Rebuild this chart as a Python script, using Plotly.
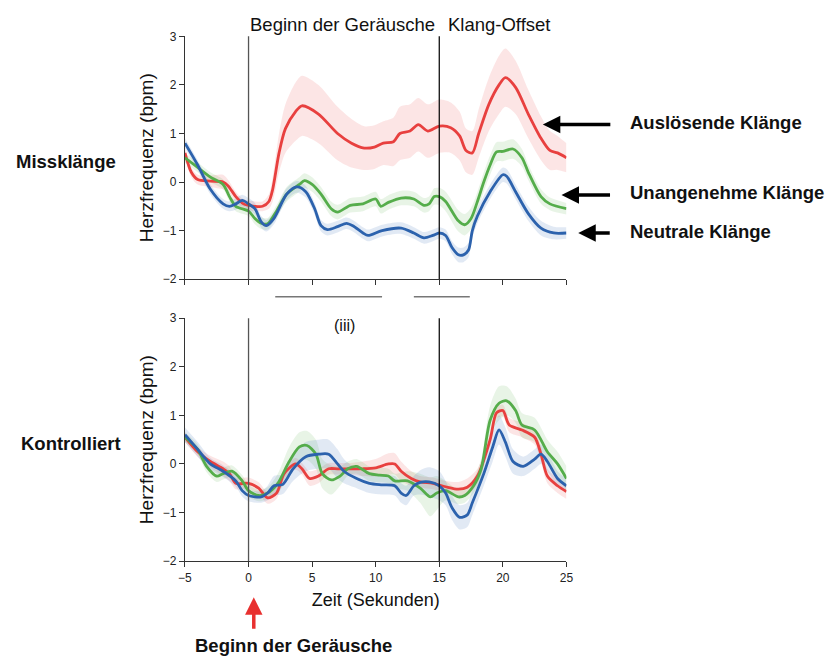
import plotly.graph_objects as go

W, H = 833, 662

# ---------------- data ----------------
# Top panel (Missklänge)
t_red_top = [-5, -4.5, -4, -3, -2, -1.6, -1, -0.4, 0.5, 1.1, 1.6, 1.9, 2.4, 2.9, 3.7, 4.2, 5.5, 7.0, 8.1, 9.1, 9.9, 10.6, 11.4, 11.9, 12.7, 13.35, 14.1, 15.0, 15.9, 16.6, 17.1, 17.6, 18.1, 18.9, 19.7, 20.2, 21.0, 22.0, 23.0, 23.7, 24.3, 25]
v_red_top = [0.6, 0.2, 0.05, 0.02, 0.0, -0.08, -0.3, -0.45, -0.5, -0.5, -0.4, -0.15, 0.6, 1.1, 1.45, 1.57, 1.4, 1.0, 0.8, 0.7, 0.72, 0.8, 0.83, 1.0, 1.05, 1.18, 1.05, 1.15, 1.12, 0.95, 0.65, 0.6, 1.0, 1.6, 2.0, 2.15, 1.95, 1.4, 0.9, 0.65, 0.6, 0.5]
e_red_top = [0.1, 0.1, 0.1, 0.12, 0.15, 0.12, 0.1, 0.1, 0.1, 0.1, 0.15, 0.25, 0.4, 0.5, 0.6, 0.62, 0.6, 0.55, 0.5, 0.45, 0.45, 0.45, 0.5, 0.55, 0.55, 0.55, 0.55, 0.55, 0.52, 0.5, 0.45, 0.45, 0.5, 0.55, 0.6, 0.6, 0.55, 0.5, 0.45, 0.4, 0.35, 0.3]

t_green_top = [-5, -4, -3, -2, -1.5, -1, 0, 0.5, 1, 1.5, 2.2, 3, 4, 4.4, 5, 5.7, 6.5, 7, 8, 9, 10, 10.4, 11, 12, 13, 13.8, 14.2, 14.6, 15, 15.5, 16.5, 17, 17.5, 18, 18.5, 19, 19.5, 20, 20.8, 21.5, 22, 23, 23.7, 25]
v_green_top = [0.5, 0.3, 0.1, -0.05, -0.3, -0.5, -0.6, -0.75, -0.85, -0.86, -0.6, -0.25, -0.05, 0.03, -0.05, -0.25, -0.55, -0.62, -0.48, -0.45, -0.35, -0.5, -0.42, -0.33, -0.35, -0.48, -0.45, -0.3, -0.3, -0.4, -0.8, -0.88, -0.75, -0.4, 0.0, 0.35, 0.62, 0.63, 0.68, 0.5, 0.2, -0.3, -0.45, -0.55]
e_green_top = [0.1, 0.1, 0.1, 0.1, 0.1, 0.1, 0.1, 0.12, 0.12, 0.12, 0.12, 0.15, 0.15, 0.15, 0.15, 0.15, 0.15, 0.15, 0.15, 0.15, 0.15, 0.15, 0.15, 0.15, 0.15, 0.15, 0.15, 0.17, 0.18, 0.2, 0.22, 0.22, 0.22, 0.2, 0.2, 0.2, 0.2, 0.2, 0.2, 0.18, 0.16, 0.15, 0.13, 0.12]

t_blue_top = [-5, -4, -3, -2, -1.5, -1, -0.5, 0, 0.5, 1, 1.4, 2, 3, 3.8, 4.5, 5.2, 5.7, 6.2, 7, 7.7, 8.2, 9, 9.4, 10.5, 12, 13, 13.8, 14.5, 15, 15.5, 16, 16.5, 16.9, 17.3, 17.6, 18, 19, 20, 20.3, 21, 22, 23, 24, 25]
v_blue_top = [0.8, 0.35, -0.15, -0.45, -0.5, -0.45, -0.38, -0.45, -0.55, -0.82, -0.9, -0.75, -0.25, -0.1, -0.2, -0.55, -0.9, -0.98, -0.92, -0.85, -0.9, -1.05, -1.1, -1.0, -0.95, -1.05, -1.15, -1.1, -1.05, -1.1, -1.35, -1.5, -1.5, -1.4, -1.0, -0.7, -0.2, 0.15, 0.12, -0.2, -0.65, -0.95, -1.05, -1.05]
e_blue_top = [0.1, 0.1, 0.1, 0.1, 0.1, 0.12, 0.12, 0.12, 0.12, 0.12, 0.12, 0.12, 0.12, 0.12, 0.12, 0.12, 0.12, 0.12, 0.12, 0.12, 0.12, 0.12, 0.12, 0.12, 0.12, 0.12, 0.12, 0.12, 0.12, 0.12, 0.13, 0.15, 0.15, 0.15, 0.15, 0.15, 0.15, 0.15, 0.15, 0.15, 0.15, 0.15, 0.13, 0.12]

# Bottom panel (Kontrolliert)
t_red_bot = [-5, -4, -3, -2, -1.5, -1, 0, 0.8, 1.5, 2.2, 2.8, 3.7, 4.2, 4.8, 5.5, 6.3, 7, 8, 9, 10, 11, 11.5, 12, 12.8, 13.5, 14.5, 15.5, 16.5, 17.2, 18, 19, 19.5, 20, 20.5, 21.5, 22.5, 23, 23.5, 24.3, 25]
v_red_bot = [0.55, 0.25, 0.05, -0.1, -0.2, -0.4, -0.4, -0.5, -0.7, -0.6, -0.2, 0.0, -0.1, -0.3, -0.25, -0.1, -0.1, -0.1, -0.1, -0.08, 0.0, 0.0, -0.15, -0.3, -0.37, -0.4, -0.47, -0.52, -0.48, -0.25, 0.5, 1.05, 1.1, 0.8, 0.7, 0.55, 0.2, -0.25, -0.45, -0.57]
e_red_bot = [0.1, 0.1, 0.12, 0.15, 0.15, 0.12, 0.12, 0.12, 0.12, 0.12, 0.12, 0.12, 0.12, 0.15, 0.15, 0.12, 0.12, 0.12, 0.15, 0.18, 0.22, 0.22, 0.2, 0.15, 0.12, 0.12, 0.12, 0.15, 0.18, 0.15, 0.12, 0.12, 0.12, 0.15, 0.15, 0.15, 0.15, 0.15, 0.15, 0.15]

t_green_bot = [-5, -4, -3.3, -2.5, -2, -1.3, -0.5, 0, 0.8, 1.5, 2.3, 3.2, 4, 4.6, 5.3, 5.8, 6.5, 7.2, 7.8, 8.5, 9.5, 10.3, 11, 11.5, 12.5, 13.5, 14.3, 14.8, 15.5, 16.5, 17, 17.7, 18.3, 19, 19.7, 20.3, 21, 21.5, 22.5, 23.5, 24.3, 25]
v_green_bot = [0.55, 0.3, -0.05, -0.25, -0.2, -0.15, -0.35, -0.55, -0.65, -0.6, -0.4, 0.05, 0.35, 0.38, 0.2, -0.2, -0.33, -0.25, -0.1, -0.05, -0.2, -0.23, -0.25, -0.35, -0.35, -0.5, -0.68, -0.6, -0.55, -0.68, -0.65, -0.45, -0.1, 0.9, 1.25, 1.3, 1.1, 0.8, 0.7, 0.25, 0.0, -0.3]
e_green_bot = [0.1, 0.1, 0.12, 0.12, 0.12, 0.12, 0.12, 0.12, 0.12, 0.12, 0.2, 0.3, 0.3, 0.3, 0.3, 0.3, 0.3, 0.2, 0.15, 0.15, 0.15, 0.15, 0.15, 0.15, 0.2, 0.3, 0.4, 0.35, 0.2, 0.15, 0.15, 0.15, 0.2, 0.3, 0.35, 0.3, 0.25, 0.25, 0.25, 0.25, 0.25, 0.25]

t_blue_bot = [-5, -4, -3, -2, -1, -0.5, 0, 1, 1.5, 2, 2.7, 3.5, 4.5, 5.5, 6.3, 7, 7.5, 8.5, 9.5, 10.5, 11.5, 12, 12.4, 13, 13.5, 14.2, 15, 15.5, 16, 16.6, 17.2, 17.6, 18.5, 19.2, 19.7, 20.2, 20.8, 21.6, 22.5, 23, 23.5, 24.3, 25]
v_blue_bot = [0.6, 0.3, 0.0, -0.15, -0.35, -0.55, -0.65, -0.68, -0.6, -0.45, -0.42, -0.1, 0.15, 0.2, 0.2, 0.0, -0.15, -0.3, -0.4, -0.43, -0.45, -0.6, -0.65, -0.45, -0.38, -0.37, -0.45, -0.6, -0.9, -1.1, -1.05, -0.8, -0.2, 0.35, 0.7, 0.45, 0.05, -0.05, 0.1, 0.2, 0.05, -0.3, -0.45]
e_blue_bot = [0.15, 0.15, 0.12, 0.12, 0.12, 0.12, 0.12, 0.12, 0.15, 0.2, 0.2, 0.25, 0.3, 0.3, 0.3, 0.3, 0.25, 0.2, 0.2, 0.2, 0.2, 0.2, 0.2, 0.2, 0.25, 0.3, 0.3, 0.25, 0.25, 0.25, 0.25, 0.25, 0.25, 0.3, 0.3, 0.3, 0.25, 0.2, 0.2, 0.2, 0.2, 0.15, 0.15]

x_ticks = [-5, 0, 5, 10, 15, 20, 25]
y_ticks = [-2, -1, 0, 1, 2, 3]
onset_lines = [0, 15]
sig_bars = [(2.1, 10.5), (13.0, 17.4)]

RED = "#e8403f"
GREEN = "#55ad4b"
BLUE = "#2c62ad"
RED_F = "rgba(240,110,110,0.18)"
GREEN_F = "rgba(110,185,100,0.16)"
BLUE_F = "rgba(80,125,190,0.17)"

fig = go.Figure()


def add_series(t, v, e, color, fill, xa, ya):
    up = [a + b for a, b in zip(v, e)]
    lo = [a - b for a, b in zip(v, e)]
    fig.add_trace(go.Scatter(x=t, y=up, mode="lines", line=dict(width=0, shape="spline", smoothing=0.8),
                             xaxis=xa, yaxis=ya, hoverinfo="skip", showlegend=False))
    fig.add_trace(go.Scatter(x=t, y=lo, mode="lines", line=dict(width=0, shape="spline", smoothing=0.8),
                             fill="tonexty", fillcolor=fill, xaxis=xa, yaxis=ya,
                             hoverinfo="skip", showlegend=False))


def add_line(t, v, color, xa, ya):
    fig.add_trace(go.Scatter(x=t, y=v, mode="lines", line=dict(color=color, width=2.8, shape="spline", smoothing=0.8),
                             xaxis=xa, yaxis=ya, showlegend=False))


for (t, v, e, c, f) in [(t_red_top, v_red_top, e_red_top, RED, RED_F),
                        (t_green_top, v_green_top, e_green_top, GREEN, GREEN_F),
                        (t_blue_top, v_blue_top, e_blue_top, BLUE, BLUE_F)]:
    add_series(t, v, e, c, f, "x", "y")
for (t, v, e, c, f) in [(t_red_bot, v_red_bot, e_red_bot, RED, RED_F),
                        (t_green_bot, v_green_bot, e_green_bot, GREEN, GREEN_F),
                        (t_blue_bot, v_blue_bot, e_blue_bot, BLUE, BLUE_F)]:
    add_series(t, v, e, c, f, "x2", "y2")

for (t, v, c) in [(t_red_top, v_red_top, RED), (t_green_top, v_green_top, GREEN), (t_blue_top, v_blue_top, BLUE)]:
    add_line(t, v, c, "x", "y")
for (t, v, c) in [(t_red_bot, v_red_bot, RED), (t_green_bot, v_green_bot, GREEN), (t_blue_bot, v_blue_bot, BLUE)]:
    add_line(t, v, c, "x2", "y2")


def px_x(p):
    return p / W


def px_y(p):
    return 1 - p / H


xdom = [px_x(181), px_x(569)]
top_dom = [px_y(278), px_y(30)]
bot_dom = [px_y(566), px_y(318)]

FONT = "Liberation Sans, Arial, sans-serif"
axis_common = dict(showline=True, linecolor="#333", linewidth=1.2, ticks="outside", ticklen=5,
                   tickcolor="#333", showgrid=False, zeroline=False,
                   tickfont=dict(family=FONT, size=12, color="#222"))

TITLE_FONT = dict(size=19, family=FONT, color="#111")

fig.update_layout(
    width=W, height=H, margin=dict(l=0, r=0, t=0, b=0),
    paper_bgcolor="white", plot_bgcolor="white",
    font=dict(family=FONT, color="#111"),
    xaxis=dict(domain=xdom, range=[-5, 25], tickvals=x_ticks, showticklabels=False, anchor="y", **axis_common),
    yaxis=dict(domain=top_dom, range=[-2, 3], tickvals=y_ticks, anchor="x",
               title=dict(text="Herzfrequenz (bpm)", font=TITLE_FONT, standoff=4),
               **axis_common),
    xaxis2=dict(domain=xdom, range=[-5, 25], tickvals=x_ticks, anchor="y2",
                title=dict(text="Zeit (Sekunden)", font=dict(size=18, family=FONT, color="#111"), standoff=9),
                **axis_common),
    yaxis2=dict(domain=bot_dom, range=[-2, 3], tickvals=y_ticks, anchor="x2",
                title=dict(text="Herzfrequenz (bpm)", font=TITLE_FONT, standoff=4),
                **axis_common),
)

shapes = []
for xv in onset_lines:
    col = "#555" if xv == 0 else "#111"
    shapes.append(dict(type="line", xref="x", yref="y domain", x0=xv, x1=xv, y0=0, y1=1,
                       line=dict(color=col, width=1.3)))
    shapes.append(dict(type="line", xref="x2", yref="y2 domain", x0=xv, x1=xv, y0=0, y1=1,
                       line=dict(color=col, width=1.3)))
for a, b in sig_bars:
    shapes.append(dict(type="line", xref="x", yref="paper", x0=a, x1=b, y0=px_y(296), y1=px_y(296),
                       line=dict(color="#777", width=1.5)))
fig.update_layout(shapes=shapes)

ann = []
ann.append(dict(text="Beginn der Geräusche", x=px_x(341), y=px_y(18), xref="paper", yref="paper",
                showarrow=False, font=dict(size=18.5, family=FONT, color="#111"), xanchor="center", yanchor="middle"))
ann.append(dict(text="Klang-Offset", x=px_x(501), y=px_y(18), xref="paper", yref="paper",
                showarrow=False, font=dict(size=18.5, family=FONT, color="#111"), xanchor="center", yanchor="middle"))
ann.append(dict(text="(iii)", x=px_x(343), y=px_y(325), xref="paper", yref="paper",
                showarrow=False, font=dict(size=16, family=FONT, color="#111"), xanchor="center", yanchor="middle"))
ann.append(dict(text="<b>Missklänge</b>", x=px_x(60), y=px_y(158), xref="paper", yref="paper",
                showarrow=False, font=dict(size=18.5, family=FONT, color="#111"), xanchor="center", yanchor="middle"))
ann.append(dict(text="<b>Kontrolliert</b>", x=px_x(65), y=px_y(446), xref="paper", yref="paper",
                showarrow=False, font=dict(size=18.5, family=FONT, color="#111"), xanchor="center", yanchor="middle"))

for label, ty, hx in [("Auslösende Klänge", 118, 545), ("Unangenehme Klänge", 190, 564), ("Neutrale Klänge", 229, 581)]:
    ann.append(dict(text="<b>" + label + "</b>", x=px_x(632), y=px_y(ty), xref="paper", yref="paper",
                    showarrow=False, font=dict(size=18.5, family=FONT, color="#111"), xanchor="left", yanchor="middle"))
    ann.append(dict(text="", x=px_x(hx), y=px_y(ty + 2), xref="paper", yref="paper",
                    showarrow=True, ax=614 - hx, ay=0, arrowhead=2, arrowsize=1, arrowwidth=3.5, arrowcolor="#000"))

ann.append(dict(text="", x=px_x(251), y=px_y(603), xref="paper", yref="paper",
                showarrow=True, ax=0, ay=33, arrowhead=2, arrowsize=1, arrowwidth=3.5, arrowcolor="#e8302f"))
ann.append(dict(text="<b>Beginn der Geräusche</b>", x=px_x(291), y=px_y(652), xref="paper", yref="paper",
                showarrow=False, font=dict(size=18.5, family=FONT, color="#111"), xanchor="center", yanchor="middle"))
fig.update_layout(annotations=ann)

fig.write_html("out.html")
